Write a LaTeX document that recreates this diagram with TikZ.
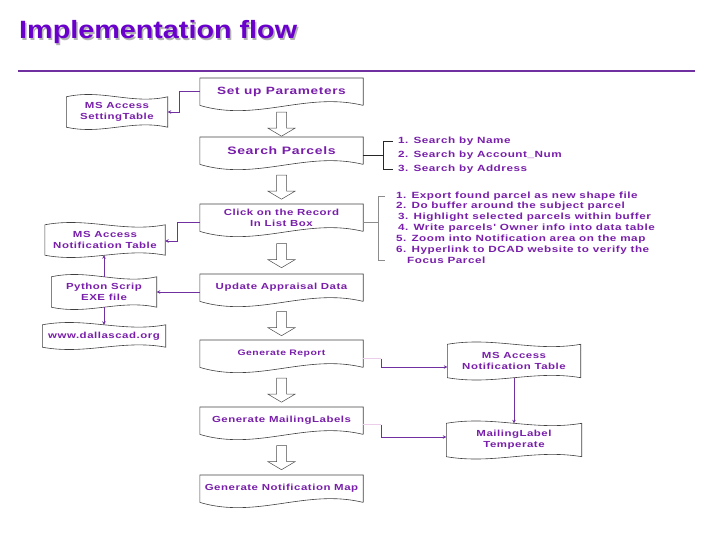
\documentclass[tikz,border=0pt]{standalone}
\usepackage{fontspec}
\setmainfont{Liberation Sans}
\newfontfamily\titlefont{Liberation Sans}[FakeStretch=1.15]
\newfontfamily\boxfont{Liberation Sans}[FakeStretch=1.3,LetterSpace=6]
\usetikzlibrary{calc,arrows.meta}
\definecolor{titlepurple}{RGB}{106,0,204}
\definecolor{textpurple}{RGB}{120,30,170}
\definecolor{flowpurple}{RGB}{112,48,160}
\definecolor{fadepink}{RGB}{236,205,236}
\begin{document}
\begin{tikzpicture}[x=1pt,y=-1pt,
    stepbox/.style={minimum width=163pt, minimum height=27pt, inner sep=0pt, align=center,
        text=textpurple, font=\boxfont\bfseries\fontsize{8.8}{10.5}\selectfont},
    tapebox/.style={inner sep=0pt, align=center, text=textpurple,
        font=\boxfont\bfseries\fontsize{8.8}{11}\selectfont},
    listtext/.style={anchor=west, inner sep=0pt, text=textpurple,
        font=\boxfont\bfseries\fontsize{9}{10}\selectfont},
    outline/.style={black!75, line width=0.6pt},
    hollow/.style={draw=black!70, fill=white, line width=0.5pt},
    conn/.style={flowpurple, line width=0.8pt, -{Stealth[length=3.5pt,width=3.5pt]}},
    brk/.style={black!85, line width=0.6pt},
    greybrk/.style={black!45, line width=0.6pt}]
    \useasboundingbox (0,0) rectangle (720,540);

    % titel
    \node[anchor=base west, inner sep=0pt, text=black!30, font=\titlefont\bfseries\fontsize{25}{30}\selectfont] at (20.5,40.5) {Implementation flow};
    \node[anchor=base west, inner sep=0pt, text=titlepurple, font=\titlefont\bfseries\fontsize{25}{30}\selectfont] (title) at (19,39) {Implementation flow};
    \draw[flowpurple, line width=2.5pt] (18,71) -- (695,71);

    % hoofdstappen
    \node[stepbox, anchor=north] (setup) at (281.5,78) {\fontsize{10.5}{11}\selectfont Set up Parameters};
    \node[stepbox, anchor=north] (search) at (281.5,137) {\fontsize{10.8}{11}\selectfont Search Parcels};
    \node[stepbox, anchor=north] (click) at (281.5,204) {Click on the Record\\In List Box};
    \node[stepbox, anchor=north] (update) at (281.5,274) {Update Appraisal Data};
    \node[stepbox, anchor=north] (report) at (281.5,340) {\fontsize{8}{10}\selectfont Generate Report};
    \node[stepbox, anchor=north] (labels) at (281.5,407) {Generate MailingLabels};
    \node[stepbox, anchor=north] (map) at (281.5,475) {Generate Notification Map};

    \foreach \n in {setup,search,click,update,report,labels,map}
        \draw[outline] (\n.south east) -- (\n.north east) -- (\n.north west) -- (\n.south west)
            .. controls ($(\n.south west)!0.35!(\n.south east)+(0,17)$) and ($(\n.south west)!0.65!(\n.south east)+(0,-14)$) .. (\n.south east);

    % holle pijlen
    \foreach \a/\b in {setup/search,search/click,click/update,update/report,report/labels,labels/map} {
        \coordinate (mid) at ($(\a.south)!0.5!(\b.north)+(0,3)$);
        \draw[hollow] ($(mid)+(-5,-12)$) -- ($(mid)+(-5,4)$) -- ($(mid)+(-13.5,4)$) -- ($(mid)+(0,12)$)
            -- ($(mid)+(13.5,4)$) -- ($(mid)+(5,4)$) -- ($(mid)+(5,-12)$) -- cycle;
    }

    % tabellen en bestanden
    \node[tapebox, minimum width=101pt, minimum height=30pt] (setting) at (117,112) {MS Access\\SettingTable};
    \node[tapebox, minimum width=120pt, minimum height=30pt] (notifL) at (105,240) {MS Access\\Notification Table};
    \node[tapebox, minimum width=105pt, minimum height=30pt] (python) at (104,292) {Python Scrip\\EXE file};
    \node[tapebox, minimum width=123pt, minimum height=22pt] (dallas) at (104,336) {www.dallascad.org};
    \node[tapebox, minimum width=133pt, minimum height=33pt] (notifR) at (514,361) {MS Access\\Notification Table};
    \node[tapebox, minimum width=135pt, minimum height=33pt] (mailing) at (514,440) {MailingLabel\\Temperate};

    \foreach \n in {setting,notifL,python,dallas,notifR,mailing}
        \draw[outline] (\n.north west)
            .. controls ($(\n.north west)!0.35!(\n.north east)+(0,-8)$) and ($(\n.north west)!0.65!(\n.north east)+(0,8)$) .. (\n.north east)
            -- (\n.south east)
            .. controls ($(\n.south west)!0.65!(\n.south east)+(0,-8)$) and ($(\n.south west)!0.35!(\n.south east)+(0,8)$) .. (\n.south west)
            -- cycle;

    % verbindingen
    \draw[conn] (setup.west) -- ++(-20,0) |- (setting.east);
    \draw[conn] ([yshift=-5pt]click.west) -- ++(-22,0) |- ([yshift=-1pt]notifL.east);
    \draw[conn] (update.west |- python.east) -- (python.east);
    \draw[conn] (python.north) -- (python.north |- notifL.south);
    \draw[conn] (python.south) -- (python.south |- dallas.north);
    \draw[fadepink, line width=0.8pt] ([yshift=-5pt]report.east) -- ++(18,0) coordinate (rpt);
    \draw[conn] (rpt) |- ([yshift=-6pt]notifR.west);
    \draw[fadepink, line width=0.8pt] ([yshift=-4pt]labels.east) -- ++(18,0) coordinate (lbl);
    \draw[conn] (lbl) |- ([yshift=3pt]mailing.west);
    \draw[conn] (notifR.south) -- (mailing.north);

    % zoekopties
    \node[listtext] (s1) at (398,141) {1. Search by Name};
    \node[listtext] (s2) at (398,155) {2. Search by Account\_Num};
    \node[listtext] (s3) at (398,169) {3. Search by Address};
    \draw[brk] (search.east |- s2.west) -- ([xshift=-15pt]s2.west);
    \draw[brk] ([xshift=-5pt]s1.west) -| ([xshift=-15pt]s3.west) -- ([xshift=-5pt]s3.west);

    % acties na klik
    \node[listtext] (d1) at (396,196) {1. Export found parcel as new shape file};
    \node[listtext] (d2) at (396,206) {2. Do buffer around the subject parcel};
    \node[listtext] (d3) at (398,217) {3. Highlight selected parcels within buffer};
    \node[listtext] (d4) at (398,228) {4. Write parcels' Owner info into data table};
    \node[listtext] (d5) at (396,239) {5. Zoom into Notification area on the map};
    \node[listtext] (d6) at (396,250) {6. Hyperlink to DCAD website to verify the};
    \node[listtext] (d7) at (407,260) {Focus Parcel};
    \draw[greybrk] ([yshift=-5pt]click.east) -- ++(15,0);
    \draw[greybrk] ([xshift=-11pt]d1.west) -- ([xshift=-18pt]d1.west) -- ([xshift=-18pt]d1.west |- d7.west) -- ([xshift=-11pt]d1.west |- d7.west);
\end{tikzpicture}
\end{document}
